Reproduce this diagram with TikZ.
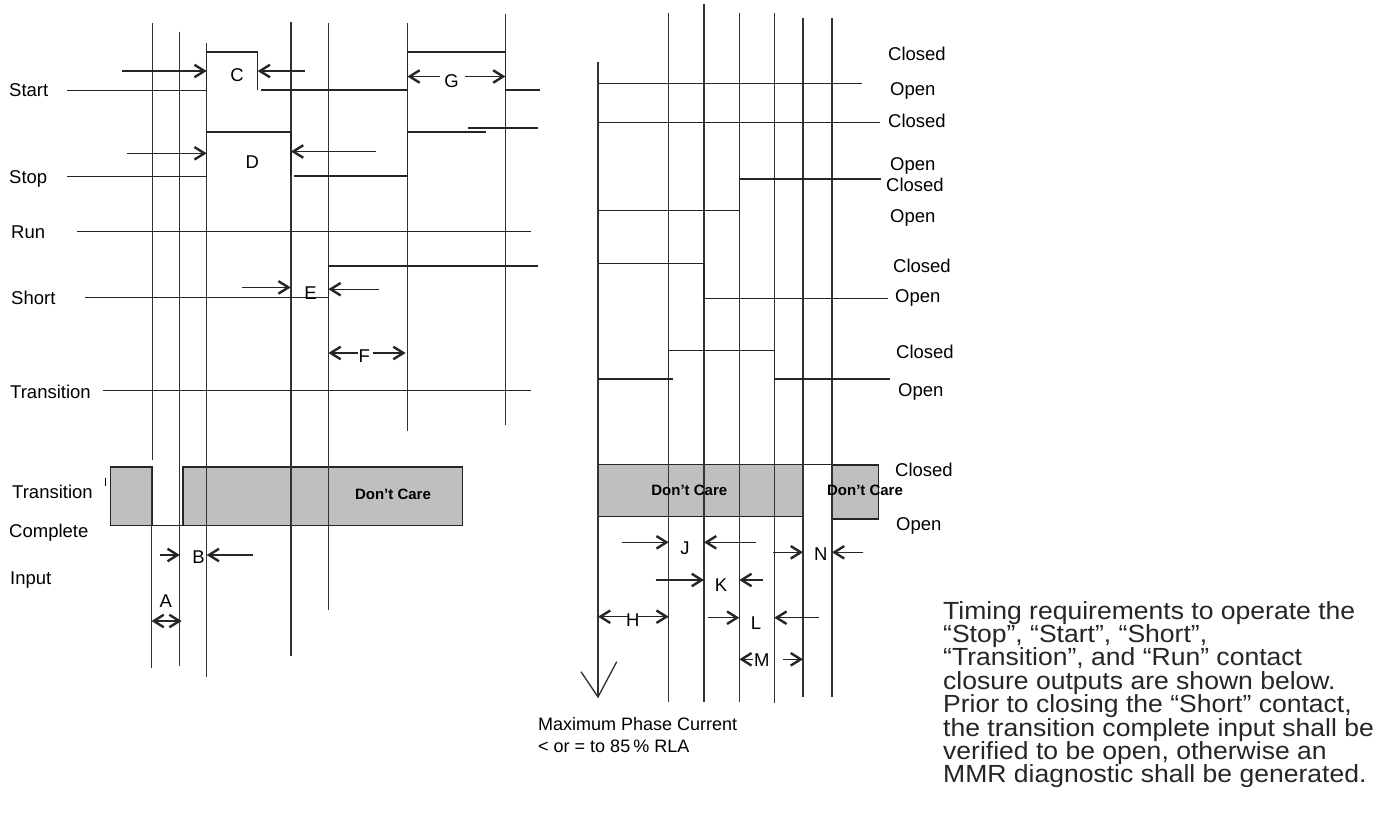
\documentclass[tikz,border=0pt]{standalone}
\usepackage{fontspec}
\setmainfont{Liberation Sans}
\newfontfamily\parafont[FakeStretch=1.07]{Liberation Sans}
\usetikzlibrary{arrows.meta}
\begin{document}
\begin{tikzpicture}[x=1pt,y=-1pt,
  gridline/.style={line width=1.35pt, draw=black!80},
  sig/.style={line width=1.35pt, draw=black!85},
  tip/.tip={Straight Barb[length=10pt,width=12.5pt,line width=2.4pt]},
  dim/.style={line width=1.3pt, draw=black!85, -tip},
  ddim/.style={line width=1.3pt, draw=black!85, tip-tip},
  lab/.style={font=\fontsize{18.5}{20}\selectfont, inner sep=0pt, anchor=west, text height=13.5pt, text depth=0pt},
  letter/.style={font=\fontsize{18.5}{20}\selectfont, inner sep=0pt, text height=13.5pt, text depth=0pt},
  dc/.style={font=\fontsize{15}{16}\selectfont\bfseries, inner sep=0pt},
  care/.style={fill=black!25, draw=black!85, line width=1.4pt}
]
\useasboundingbox[fill=white] (0,0) rectangle (1386,833);

% ---------------- LEFT DIAGRAM ----------------
% Don't care boxes (Transition Complete Input)
\draw[care] (110.2,467) rectangle (152.5,525.2);
\draw[care] (183,467) rectangle (462.3,525.2);
\draw[sig] (152.5,525.2) -- (183,525.2);
\draw[line width=1pt] (105,478) -- (105,486);
\node[dc] (dcL) at (393,494.7) {Don't Care};

% vertical time lines
\draw[gridline] (152.5,23.3) -- (152.5,460);
\draw[gridline] (151.5,466) -- (151.5,667.7);
\draw[gridline] (179.8,31.6) -- (179.8,666);
\draw[gridline] (206.7,43) -- (206.7,676.6);
\draw[gridline] (291,22.3) -- (291,656);
\draw[gridline] (328.4,23.3) -- (328.4,610);
\draw[gridline] (407.4,23.3) -- (407.4,430.8);
\draw[gridline] (505.4,13.6) -- (505.4,425);

% signals
\draw[sig] (67,90.8) -- (206.7,90.8) -- (206.7,52) -- (257.4,52) -- (257.4,89.7);
\draw[sig] (261,90) -- (407.4,90) -- (407.4,52) -- (505.4,52) -- (505.4,90) -- (540,90);
\draw[sig] (67,176.6) -- (206.7,176.6) -- (206.7,132) -- (291,132) -- (291,176);
\draw[sig] (294.3,176) -- (407.4,176) -- (407.4,132) -- (486.4,132);
\draw[sig] (468.4,128.1) -- (538.4,128.1);
\draw[sig] (77.2,231.5) -- (531.2,231.5);
\draw[sig] (85.4,297.5) -- (328.4,297.5) -- (328.4,265.9) -- (538.4,265.9);
\draw[sig] (103.4,390.4) -- (531.2,390.4);

% labels
\node[lab] (lStart) at (9,90) {Start};
\node[lab] (lStop) at (9,176.6) {Stop};
\node[lab] (lRun) at (11,231.5) {Run};
\node[lab] (lShort) at (11,297.5) {Short};
\node[lab] (lTrans) at (10,391.5) {Transition};
\node[lab] (lTC1) at (12,491.8) {Transition};
\node[lab] (lTC2) at (9,530.5) {Complete};
\node[lab] (lTC3) at (10,578) {Input};

% letters
\node[letter] (C) at (237,75) {C};
\node[letter] (D) at (252.3,162) {D};
\node[letter] (G) at (451.5,81) {G};
\node[letter] (E) at (310.5,293) {E};
\node[letter] (F) at (364.3,355.6) {F};
\node[letter] (B) at (198.5,557) {B};
\node[letter] (A) at (165.8,601) {A};

% dimension arrows
\draw[dim] (122,71) -- (206.7,71);
\draw[dim] (305,71) -- (257.7,71);
\draw[dim] (440,76.5) -- (407.4,76.5);
\draw[dim] (465,76.5) -- (505.4,76.5);
\draw[dim] (127.4,153.3) -- (206.7,153.3);
\draw[dim] (375.8,151.5) -- (291,151.5);
\draw[dim] (241.6,287.4) -- (290.7,287.4);
\draw[dim] (379.4,289.2) -- (328.4,289.2);
\draw[dim] (358,353) -- (328.4,353);
\draw[dim] (373.3,353) -- (405.6,353);
\draw[dim] (160.4,555) -- (179.8,555);
\draw[dim] (253,555) -- (206.7,555);
\draw[ddim] (151.5,621) -- (181.6,621);

% ---------------- RIGHT DIAGRAM ----------------
\draw[care] (598.3,464.3) rectangle (803,516.7);
\draw[care] (832,465) rectangle (878.3,519);
\draw[sig] (803,464.3) -- (832,464.3);

\draw[gridline] (598,61.7) -- (598,697);
\draw[gridline] (668.7,13.3) -- (668.7,701.7);
\draw[gridline] (704,4.3) -- (704,701.7);
\draw[gridline] (739.3,13.3) -- (739.3,701.7);
\draw[gridline] (774.3,13.3) -- (774.3,703.3);
\draw[gridline] (803,18.3) -- (803,697.3);
\draw[gridline] (832,18.3) -- (832,697.3);
\draw[gridline] (581,671.7) -- (598,697) -- (616.7,661.7);

\node[dc] (dcR1) at (689.3,490) {Don't Care};
\node[dc] (dcR2) at (865,490) {Don't Care};

% signals
\draw[sig] (599.3,83.3) -- (862.3,83.3);
\draw[sig] (599.3,122.7) -- (880,122.7);
\draw[sig] (598,210.7) -- (739.3,210.7) -- (739.3,179) -- (881,179);
\draw[sig] (598,263.3) -- (704,263.3) -- (704,298.3) -- (888.3,298.3);
\draw[sig] (598,379) -- (673.3,379);
\draw[sig] (668.7,384) -- (668.7,350.7) -- (774.3,350.7) -- (774.3,379) -- (890,379);

% state labels
\node[lab] (c1) at (888,53.3) {Closed};
\node[lab] (o1) at (890,88.3) {Open};
\node[lab] (c2) at (888,120.7) {Closed};
\node[lab] (o2) at (890,164) {Open};
\node[lab] (c3) at (886,185) {Closed};
\node[lab] (o3) at (890,215.7) {Open};
\node[lab] (c4) at (893,266) {Closed};
\node[lab] (o4) at (895,295.7) {Open};
\node[lab] (c5) at (896,351.7) {Closed};
\node[lab] (o5) at (898,390) {Open};
\node[lab] (c6) at (895,469.3) {Closed};
\node[lab] (o6) at (896,523.3) {Open};

% letters
\node[letter] (J) at (685,547.3) {J};
\node[letter] (N) at (820.7,553.3) {N};
\node[letter] (K) at (721,585) {K};
\node[letter] (H) at (632.7,620) {H};
\node[letter] (L) at (756,622.7) {L};
\node[letter] (M) at (761.7,659.3) {M};

% dimension arrows
\draw[dim] (621.7,542.3) -- (668.7,542.3);
\draw[dim] (755.7,542.3) -- (704,542.3);
\draw[dim] (773.3,552.3) -- (803,552.3);
\draw[dim] (863.3,552.3) -- (832,552.3);
\draw[dim] (655.7,580) -- (704,580);
\draw[dim] (763.3,580) -- (739.3,580);
\draw[dim] (628.3,616.7) -- (598,616.7);
\draw[dim] (638.3,616.7) -- (668.7,616.7);
\draw[dim] (708.3,617.7) -- (739.3,617.7);
\draw[dim] (819,617.7) -- (774.3,617.7);
\draw[dim] (753.3,659.3) -- (739.3,659.3);
\draw[dim] (782.7,659.3) -- (803,659.3);

% bottom caption
\node[font=\fontsize{18}{20}\selectfont, inner sep=0pt, anchor=base west] (mpc1) at (538,730) {Maximum Phase Current};
\node[font=\fontsize{18}{20}\selectfont, inner sep=0pt, anchor=base west] (mpc2) at (538,752) {< or = to 85\,\% RLA};

% paragraph
\node[font=\parafont\fontsize{24.8}{23.4}\selectfont, inner sep=0pt, anchor=north west, align=left, text=black!85] (para) at (943,601)
{Timing requirements to operate the\\
“Stop”, “Start”, “Short”,\\
“Transition”, and “Run” contact\\
closure outputs are shown below.\\
Prior to closing the “Short” contact,\\
the transition complete input shall be\\
verified to be open, otherwise an\\
MMR diagnostic shall be generated.};
\end{tikzpicture}
\end{document}
